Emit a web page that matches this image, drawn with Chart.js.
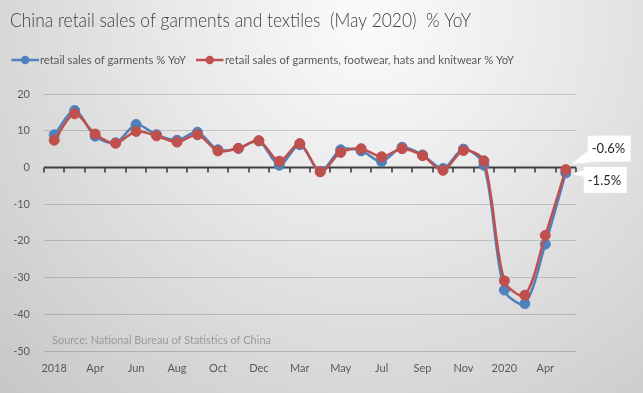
<!DOCTYPE html>
<html><head><meta charset="utf-8">
<script src="https://cdn.jsdelivr.net/npm/chart.js@4.4.1/dist/chart.umd.min.js"></script>
<style>html,body{margin:0;padding:0;overflow:hidden;background:#fff}</style>
</head><body>
<canvas id="c" width="643" height="393"></canvas>
<script>
const titleText = 'China retail sales of garments and textiles  (May 2020)  % YoY';
const sourceText = 'Source: National Bureau of Statistics of China';
const categories = ['2018','Mar','Apr','May','Jun','Jul','Aug','Sep','Oct','Nov','Dec',
  '2019','Mar','Apr','May','Jun','Jul','Aug','Sep','Oct','Nov','Dec',
  '2020','Mar','Apr','May'];
const seriesNames = ['retail sales of garments % YoY',
  'retail sales of garments, footwear, hats and knitwear % YoY'];
const garments = [8.9, 15.5, 8.5, 6.7, 11.7, 8.9, 7.4, 9.6, 4.8, 5.2, 7.2,
  0.6, 6.2, -1.1, 4.8, 4.5, 1.6, 5.5, 3.4, -0.3, 5.0, 0.6,
  -33.4, -37.1, -20.9, -1.5];
const garmentsFootwear = [7.4, 14.6, 9.1, 6.6, 9.8, 8.6, 6.9, 8.9, 4.5, 5.2, 7.3,
  1.7, 6.5, -1.2, 4.1, 5.1, 2.9, 5.1, 3.2, -0.8, 4.6, 1.8,
  -30.9, -34.8, -18.5, -0.6];
const yTicks = {min: -50, max: 20, step: 10};

const BLUE = '#4f81bd', RED = '#c0504d';
const FONT = 'Lato, "Open Sans", sans-serif';

function fitText(ctx, text, x, y, w) {
  const m = ctx.measureText(text).width;
  ctx.save(); ctx.translate(x, y); ctx.scale(w / m, 1);
  ctx.fillText(text, 0, 0); ctx.restore();
}

const decor = {
  id: 'decor',
  beforeDraw(chart) {
    const ctx = chart.ctx, W = chart.width, H = chart.height;
    ctx.save();
    const g = ctx.createRadialGradient(370, 20, 0, 370, 20, 560);
    g.addColorStop(0, '#fbfbfb');
    g.addColorStop(0.35, '#e9e9e9');
    g.addColorStop(0.7, '#d5d5d5');
    g.addColorStop(1, '#c3c3c3');
    ctx.fillStyle = g; ctx.fillRect(0, 0, W, H);
    ctx.restore();
  },
  beforeDatasetsDraw(chart) {
    const ctx = chart.ctx, xs = chart.scales.x, ys = chart.scales.y, a = chart.chartArea;
    const y0 = ys.getPixelForValue(0);
    const step = xs.getPixelForValue(1) - xs.getPixelForValue(0);
    ctx.save();
    ctx.strokeStyle = '#404040';
    ctx.lineWidth = 2;
    ctx.beginPath(); ctx.moveTo(a.left, y0); ctx.lineTo(a.right, y0); ctx.stroke();
    ctx.lineWidth = 1.6;
    ctx.beginPath();
    for (let i = 0; i <= categories.length; i++) {
      const x = Math.round(xs.getPixelForValue(0) - step / 2 + i * step);
      ctx.moveTo(x, y0); ctx.lineTo(x, y0 + 5);
    }
    ctx.stroke();
    ctx.restore();
  },
  afterDraw(chart) {
    const ctx = chart.ctx;
    ctx.save();
    // title
    ctx.fillStyle = '#404040';
    ctx.font = '300 19px ' + FONT;
    ctx.textBaseline = 'alphabetic';
    fitText(ctx, titleText, 10, 27, 461);
    // legend
    ctx.font = '12px ' + FONT;
    ctx.textBaseline = 'middle';
    const items = [[BLUE, 11.5, 40, 146], [RED, 196, 225, 289]];
    items.forEach((it, i) => {
      const [col, lx, tx, tw] = it;
      ctx.strokeStyle = col; ctx.lineWidth = 2.5;
      ctx.beginPath(); ctx.moveTo(lx, 60); ctx.lineTo(lx + 27.5, 60); ctx.stroke();
      ctx.fillStyle = col;
      ctx.beginPath(); ctx.arc(lx + 13.75, 60, 4.2, 0, Math.PI * 2); ctx.fill();
      ctx.fillStyle = '#595959';
      fitText(ctx, seriesNames[i], tx, 60.5, tw);
    });
    // source
    ctx.font = '12px ' + FONT;
    ctx.fillStyle = '#9a9a9a';
    fitText(ctx, sourceText, 52, 340.5, 219);
    // end labels
    const last = categories.length - 1;
    const pR = chart.getDatasetMeta(1).data[last];
    const pB = chart.getDatasetMeta(0).data[last];
    ctx.font = '13px ' + FONT;
    ctx.textBaseline = 'middle';
    // red label (upper)
    {
      const bx = pR.x + 22, by = pR.y - 34, bw = 43, bh = 26;
      ctx.fillStyle = '#ffffff';
      ctx.fillRect(bx, by, bw, bh);
      ctx.beginPath();
      ctx.moveTo(pR.x + 6, pR.y - 6);
      ctx.lineTo(bx, by + 15);
      ctx.lineTo(bx, by + bh);
      ctx.lineTo(bx + 12, by + bh);
      ctx.closePath(); ctx.fill();
      ctx.fillStyle = '#262626';
      ctx.fillText(garmentsFootwear[last].toFixed(1) + '%', bx + 4, by + bh / 2 + 0.5);
    }
    // blue label (lower)
    {
      const bx = pB.x + 18, by = pB.y - 6, bw = 43, bh = 26;
      ctx.fillStyle = '#ffffff';
      ctx.fillRect(bx, by, bw, bh);
      ctx.beginPath();
      ctx.moveTo(pB.x + 5, pB.y + 1);
      ctx.lineTo(bx + 1, by + 3);
      ctx.lineTo(bx + 1, by + 10);
      ctx.closePath(); ctx.fill();
      ctx.fillStyle = '#262626';
      ctx.fillText(garments[last].toFixed(1) + '%', bx + 4, by + bh / 2 + 0.5);
    }
    ctx.restore();
  }
};

new Chart(document.getElementById('c'), {
  type: 'line',
  data: {
    labels: categories,
    datasets: [
      {label: seriesNames[0], data: garments, borderColor: BLUE, backgroundColor: BLUE,
       pointBackgroundColor: BLUE, pointBorderColor: BLUE, borderWidth: 2.5,
       pointRadius: 5, pointBorderWidth: 1, tension: 0.3, order: 2},
      {label: seriesNames[1], data: garmentsFootwear, borderColor: RED, backgroundColor: RED,
       pointBackgroundColor: RED, pointBorderColor: RED, borderWidth: 2.5,
       pointRadius: 5, pointBorderWidth: 1, tension: 0.3, order: 1}
    ]
  },
  options: {
    responsive: false,
    devicePixelRatio: 1,
    animation: false,
    layout: {padding: {top: 94, right: 67, bottom: 0, left: 0}},
    plugins: {legend: {display: false}, title: {display: false}, tooltip: {enabled: false}},
    scales: {
      x: {
        type: 'category', offset: true,
        grid: {display: false}, border: {display: false},
        afterFit: s => { s.height = 42; },
        ticks: {
          autoSkip: false, maxRotation: 0, padding: 3, color: '#595959',
          font: {family: FONT, size: 11},
          callback: (v, i) => (i % 2 === 0 ? categories[i] : '')
        }
      },
      y: {
        min: yTicks.min, max: yTicks.max,
        border: {display: false},
        afterFit: s => { s.width = 44; },
        grid: {drawTicks: false, lineWidth: 1,
          color: c => (c.tick && c.tick.value === 0 ? 'rgba(0,0,0,0)' : 'rgba(0,0,0,0.16)')},
        ticks: {stepSize: yTicks.step, padding: 14, color: '#595959',
          font: {family: FONT, size: 11}}
      }
    }
  },
  plugins: [decor]
});
</script>
</body></html>
